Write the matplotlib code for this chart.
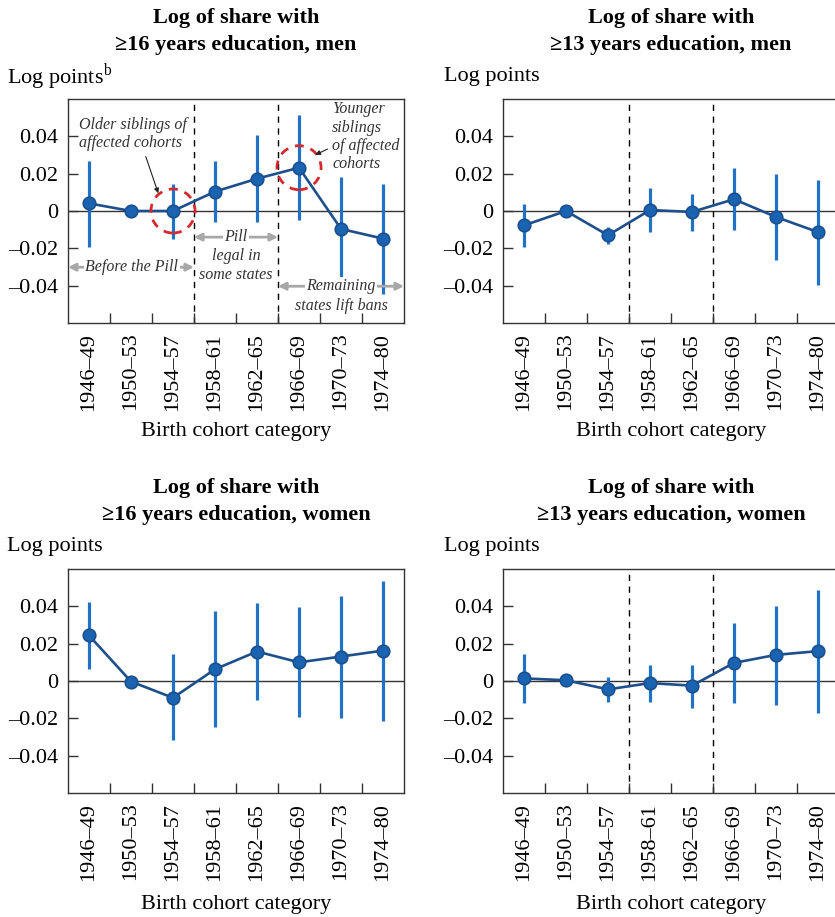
import matplotlib
matplotlib.use("Agg")
import matplotlib.pyplot as plt
from matplotlib.patches import Ellipse

plt.rcParams['font.family'] = ['Liberation Serif', 'DejaVu Serif']
plt.rcParams['mathtext.fontset'] = 'custom'
plt.rcParams['mathtext.rm'] = 'Liberation Serif'

cohorts = ["1946–49", "1950–53", "1954–57", "1958–61",
           "1962–65", "1966–69", "1970–73", "1974–80"]
ytick_vals = [-0.04, -0.02, 0.0, 0.02, 0.04]
ytick_labels = ["–0.04", "–0.02", "0", "0.02", "0.04"]

# Men, >=16 years of education
men16 = [0.0041, 0.0, 0.0, 0.0104, 0.0173, 0.0232, -0.0096, -0.0148]
men16_hi = [0.0268, 0.0, 0.0146, 0.0268, 0.0405, 0.0512, 0.0182, 0.0146]
men16_lo = [-0.0191, 0.0, -0.0148, -0.0059, -0.0057, -0.0048, -0.0375, -0.0446]

# Men, >=13 years of education
men13 = [-0.0077, 0.0, -0.0130, 0.0005, -0.0005, 0.0063, -0.0032, -0.0113]
men13_hi = [0.0036, 0.0, -0.0085, 0.0121, 0.0089, 0.0229, 0.0196, 0.0164]
men13_lo = [-0.0191, 0.0, -0.0179, -0.0111, -0.0107, -0.0102, -0.0264, -0.0396]

# Women, >=16 years of education
wom16 = [0.0244, -0.0003, -0.0090, 0.0063, 0.0158, 0.0100, 0.0131, 0.0163]
wom16_hi = [0.0423, 0.0, 0.0143, 0.0373, 0.0418, 0.0396, 0.0454, 0.0538]
wom16_lo = [0.0065, 0.0, -0.0314, -0.0248, -0.0102, -0.0192, -0.0197, -0.0213]

# Women, >=13 years of education
wom13 = [0.0014, 0.0004, -0.0045, -0.0011, -0.0025, 0.0097, 0.0140, 0.0160]
wom13_hi = [0.0142, 0.0, 0.0020, 0.0086, 0.0088, 0.0310, 0.0400, 0.0490]
wom13_lo = [-0.0120, 0.0, -0.0111, -0.0111, -0.0145, -0.0120, -0.0129, -0.0174]

W, H = 835, 917
fig = plt.figure(figsize=(W / 100, H / 100), dpi=100)

LINE = "#1d4f8c"
ERR = "#1f72c4"
FACE = "#1a63b0"
EDGE = "#1a4f90"
FS = 16


def px_axes(x0, y0, x1, y1):
    return fig.add_axes([x0 / W, 1 - y1 / H, (x1 - x0) / W, (y1 - y0) / H])


def panel(ax, est, hi, lo, dashed, title, ylab, cx, ty, ly, lx, xly):
    x = list(range(len(cohorts)))
    for i in x:
        if hi[i] != lo[i]:
            ax.plot([i, i], [lo[i], hi[i]], color=ERR, lw=2.3, zorder=2,
                    solid_capstyle='butt')
    ax.axhline(0, color="#333333", lw=1.0, zorder=1)
    ax.plot(x, est, color=LINE, lw=1.9, zorder=3, marker='o', ms=9,
            markerfacecolor=FACE, markeredgecolor=EDGE, markeredgewidth=1.2)
    if dashed:
        for xv in (2.5, 4.5):
            ax.axvline(xv, color="black", lw=1.0, ls=(0, (4.5, 4)), zorder=1)
    ax.set_xlim(-0.5, 7.5)
    ax.set_ylim(-0.06, 0.06)
    ax.set_xticks([i + 0.5 for i in range(7)])
    ax.set_xticklabels([])
    ax.set_xticks(x, minor=True)
    ax.set_xticklabels(cohorts, minor=True, rotation=90, fontsize=FS)
    ax.tick_params(axis='x', which='major', direction='in', length=7,
                   width=1, color="#333333")
    ax.tick_params(axis='x', which='minor', length=0, pad=7)
    ax.set_yticks(ytick_vals)
    ax.set_yticklabels(ytick_labels, fontsize=FS)
    ax.tick_params(axis='y', direction='in', length=7, width=1,
                   color="#333333", pad=7)
    for s in ax.spines.values():
        s.set_color("#333333")
        s.set_linewidth(1.0)
    fig.text(cx / W, 1 - ty / H, title[0], ha='center', va='center',
             fontsize=FS, fontweight='bold')
    fig.text(cx / W, 1 - (ty + 27) / H, title[1], ha='center', va='center',
             fontsize=FS, fontweight='bold')
    fig.text(lx / W, 1 - ly / H, ylab, ha='left', va='center', fontsize=FS)
    fig.text(cx / W, 1 - xly / H, "Birth cohort category", ha='center',
             va='center', fontsize=FS)


ax1 = px_axes(68, 99, 404, 323)
panel(ax1, men16, men16_hi, men16_lo, True,
      ("Log of share with", "≥16 years education, men"),
      r"Log points$^{\mathrm{b}}$", 236, 18, 77, 7, 432)

ax2 = px_axes(503, 99, 839, 323)
panel(ax2, men13, men13_hi, men13_lo, True,
      ("Log of share with", "≥13 years education, men"),
      "Log points", 671, 18, 77, 444, 432)

ax3 = px_axes(68, 569, 404, 793)
panel(ax3, wom16, wom16_hi, wom16_lo, False,
      ("Log of share with", "≥16 years education, women"),
      "Log points", 236, 488, 547, 7, 905)

ax4 = px_axes(503, 569, 839, 793)
panel(ax4, wom13, wom13_hi, wom13_lo, True,
      ("Log of share with", "≥13 years education, women"),
      "Log points", 671, 488, 547, 444, 905)

# Annotations on the men >=16 panel
RED = "#d42a2f"
GRAY = "#a8a8a8"
AFS = 11.5
for cx_, cy_ in ((2, men16[2]), (5, men16[5])):
    ax1.add_patch(Ellipse((cx_, cy_), 1.05, 0.0236, fill=False, ec=RED,
                          lw=2.0, ls=(0, (3.2, 2.6)), zorder=4))

ax1.text(-0.24, 0.0411, "Older siblings of\naffected cohorts", style='italic',
         fontsize=AFS, ha='left', va='center', color="#333333",
         linespacing=1.2, zorder=5)
ax1.annotate("", xy=(1.67, 0.0081), xytext=(1.33, 0.0306),
             arrowprops=dict(arrowstyle='-|>', color="#222222", lw=0.8,
                             mutation_scale=7), zorder=5)

ax1.text(5.79, 0.0397, "Younger\nsiblings\nof affected\ncohorts",
         style='italic', fontsize=AFS, ha='left', va='center',
         color="#333333", linespacing=1.2, zorder=5)
ax1.annotate("", xy=(5.33, 0.0295), xytext=(5.74, 0.0338),
             arrowprops=dict(arrowstyle='-|>', color="#222222", lw=0.8,
                             mutation_scale=7), zorder=5)


def span(ax, x0, x1, y):
    ax.annotate("", xy=(x0, y), xytext=(x1, y),
                arrowprops=dict(arrowstyle='<|-|>', color=GRAY, lw=2.0,
                                mutation_scale=11, shrinkA=0, shrinkB=0),
                zorder=4)


span(ax1, -0.5, 2.5, -0.0301)
ax1.text(1.02, -0.0301, "Before the Pill", style='italic', fontsize=AFS,
         ha='center', va='center', color="#333333", zorder=5,
         bbox=dict(fc='white', ec='none', pad=1))

span(ax1, 2.5, 4.5, -0.0140)
ax1.text(3.5, -0.0140, "Pill", style='italic', fontsize=AFS, ha='center',
         va='center', color="#333333", zorder=5,
         bbox=dict(fc='white', ec='none', pad=1))
ax1.text(3.5, -0.0242, "legal in", style='italic', fontsize=AFS, ha='center',
         va='center', color="#333333", zorder=5)
ax1.text(3.5, -0.0344, "some states", style='italic', fontsize=AFS,
         ha='center', va='center', color="#333333", zorder=5)

span(ax1, 4.5, 7.5, -0.0403)
ax1.text(6.0, -0.0403, "Remaining", style='italic', fontsize=AFS,
         ha='center', va='center', color="#333333", zorder=5,
         bbox=dict(fc='white', ec='none', pad=1))
ax1.text(6.0, -0.0510, "states lift bans", style='italic', fontsize=AFS,
         ha='center', va='center', color="#333333", zorder=5)

fig.savefig("out.png", dpi=100)
